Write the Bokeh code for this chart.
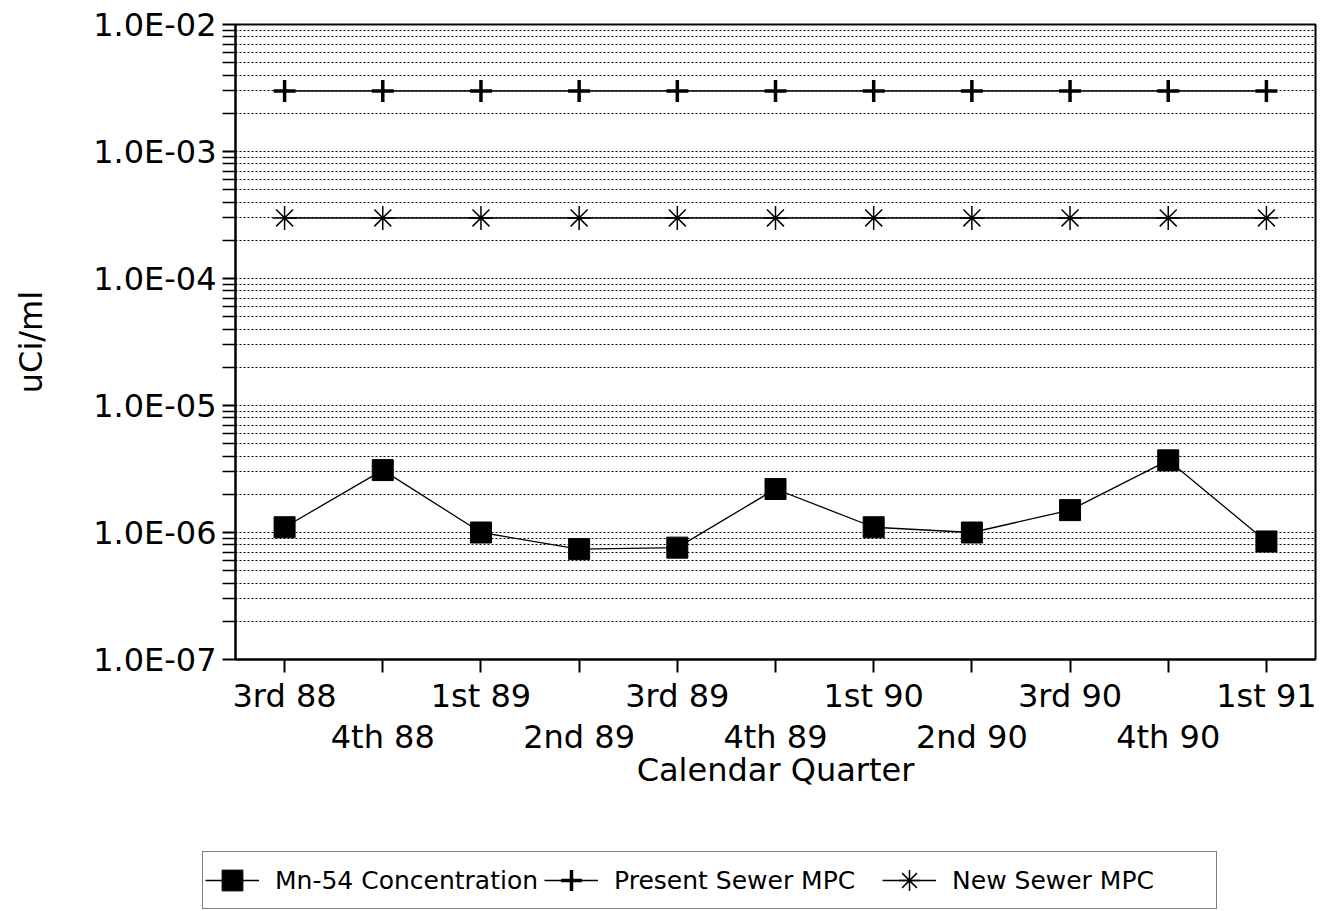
from bokeh.plotting import figure
from bokeh.layouts import column
from bokeh.models import Range1d, FixedTicker, LinearAxis, Legend, LegendItem
from bokeh.embed import file_html
from bokeh.resources import INLINE

quarters = ["3rd 88", "4th 88", "1st 89", "2nd 89", "3rd 89", "4th 89",
            "1st 90", "2nd 90", "3rd 90", "4th 90", "1st 91"]
mn54 = [1.1e-6, 3.1e-6, 1.0e-6, 7.4e-7, 7.6e-7, 2.2e-6,
        1.1e-6, 1.0e-6, 1.5e-6, 3.7e-6, 8.5e-7]
present_mpc = [3.0e-3, 3.0e-3, 3.0e-3, 3.0e-3, 3.0e-3, 3.0e-3,
               3.0e-3, 3.0e-3, 3.0e-3, 3.0e-3, 3.0e-3]
new_mpc = [3.0e-4, 3.0e-4, 3.0e-4, 3.0e-4, 3.0e-4, 3.0e-4,
           3.0e-4, 3.0e-4, 3.0e-4, 3.0e-4, 3.0e-4]
y_major = [1e-7, 1e-6, 1e-5, 1e-4, 1e-3, 1e-2]
y_labels = ["1.0E-07", "1.0E-06", "1.0E-05", "1.0E-04", "1.0E-03", "1.0E-02"]
y_minor_mult = [2, 3, 4, 5, 6, 7, 8, 9]
series_names = ["Mn-54 Concentration", "Present Sewer MPC", "New Sewer MPC"]

FONT = "DejaVu Sans"

x = list(range(len(quarters)))
even_idx = x[0::2]
odd_idx = x[1::2]
minor = [m * d for d in y_major[:-1] for m in y_minor_mult]

p = figure(width=1326, height=820, x_range=Range1d(-0.5, len(quarters) - 0.5),
           y_axis_type="log", y_range=Range1d(1e-7, 1e-2), output_backend="svg",
           toolbar_location=None, min_border_left=235, min_border_right=11,
           min_border_top=24, min_border_bottom=161)
p.background_fill_color = "white"
p.border_fill_color = "white"
p.outline_line_color = "black"
p.outline_line_width = 2

ticker = FixedTicker(ticks=y_major, minor_ticks=minor)
p.yaxis.ticker = ticker
p.yaxis.major_label_overrides = {v: s for v, s in zip(y_major, y_labels)}
p.yaxis.major_label_text_font = FONT
p.yaxis.major_label_text_font_size = "32px"
p.yaxis.major_label_text_color = "black"
p.yaxis.major_label_standoff = 6
p.yaxis.major_tick_out = 13
p.yaxis.major_tick_in = 0
p.yaxis.minor_tick_out = 13
p.yaxis.minor_tick_in = 0
p.yaxis.major_tick_line_width = 2
p.yaxis.minor_tick_line_width = 1.5
p.yaxis.axis_line_width = 2
p.yaxis.axis_label = "uCi/ml"
p.yaxis.axis_label_text_font = FONT
p.yaxis.axis_label_text_font_size = "32px"
p.yaxis.axis_label_text_font_style = "normal"
p.yaxis.axis_label_text_color = "black"
p.yaxis.axis_label_standoff = 40

p.ygrid.ticker = ticker
p.ygrid.grid_line_color = "black"
p.ygrid.grid_line_dash = "2 2"
p.ygrid.grid_line_width = 1
p.ygrid.minor_grid_line_color = "black"
p.ygrid.minor_grid_line_dash = "2 2"
p.ygrid.minor_grid_line_width = 1
p.xgrid.grid_line_color = None

# first row of x labels (ticks at every quarter)
xa = p.xaxis[0]
xa.ticker = FixedTicker(ticks=even_idx, minor_ticks=odd_idx)
xa.major_label_overrides = {i: quarters[i] for i in even_idx}
xa.major_label_text_font = FONT
xa.major_label_text_font_size = "32px"
xa.major_label_text_color = "black"
xa.major_label_standoff = 4
xa.major_tick_out = 13
xa.major_tick_in = 0
xa.minor_tick_out = 13
xa.minor_tick_in = 0
xa.major_tick_line_width = 2
xa.minor_tick_line_width = 2
xa.axis_line_width = 2

# second row of x labels + axis title
xb = LinearAxis(
    ticker=FixedTicker(ticks=odd_idx),
    major_label_overrides={i: quarters[i] for i in odd_idx},
    major_label_text_font=FONT, major_label_text_font_size="32px",
    major_label_text_color="black", major_label_standoff=0,
    major_tick_line_color=None, minor_tick_line_color=None,
    axis_line_color=None, major_tick_out=0, major_tick_in=0,
    axis_label="Calendar Quarter", axis_label_text_font=FONT,
    axis_label_text_font_size="32px", axis_label_text_font_style="normal",
    axis_label_text_color="black", axis_label_standoff=-8)
p.add_layout(xb, "below")

p.line(x, mn54, line_color="black", line_width=1.3)
p.scatter(x, mn54, marker="square", size=21, fill_color="black", line_color="black")
p.line(x, present_mpc, line_color="black", line_width=1.5)
p.scatter(x, present_mpc, marker="cross", size=22, line_color="black", line_width=3.5)
p.line(x, new_mpc, line_color="black", line_width=1.5)
p.scatter(x, new_mpc, marker="asterisk", size=24, line_color="black", line_width=1.5)

# legend strip below the chart (its own frame spans the whole width)
q = figure(width=1326, height=91, output_backend="svg", toolbar_location=None,
           x_axis_location=None, y_axis_location=None, min_border=0,
           x_range=Range1d(0, 1), y_range=Range1d(0, 1))
if "frame_align" in q.properties():
    q.frame_align = False
    p.frame_align = False
q.outline_line_color = None
q.grid.grid_line_color = None
q.background_fill_color = "white"
q.border_fill_color = "white"
nan = float("nan")
ql1 = q.line([nan], [nan], line_color="black", line_width=1.3)
qs1 = q.scatter([nan], [nan], marker="square", fill_color="black", line_color="black")
ql2 = q.line([nan], [nan], line_color="black", line_width=1.5)
qs2 = q.scatter([nan], [nan], marker="cross", line_color="black", line_width=3.5)
ql3 = q.line([nan], [nan], line_color="black", line_width=1.5)
qs3 = q.scatter([nan], [nan], marker="asterisk", line_color="black", line_width=1.5)

legend = Legend(items=[LegendItem(label=series_names[0], renderers=[ql1, qs1]),
                       LegendItem(label=series_names[1], renderers=[ql2, qs2]),
                       LegendItem(label=series_names[2], renderers=[ql3, qs3])],
                orientation="horizontal", location=(202, 2),
                label_text_font=FONT, label_text_font_size="25px",
                label_text_color="black", glyph_width=54, glyph_height=52,
                label_standoff=16, label_width=262, spacing=6, padding=2,
                margin=0, border_line_color="black", border_line_width=1.5,
                background_fill_color="white", background_fill_alpha=1)
q.add_layout(legend)

layout = column(p, q, spacing=0)
open("out.html", "w").write(file_html(layout, INLINE))
